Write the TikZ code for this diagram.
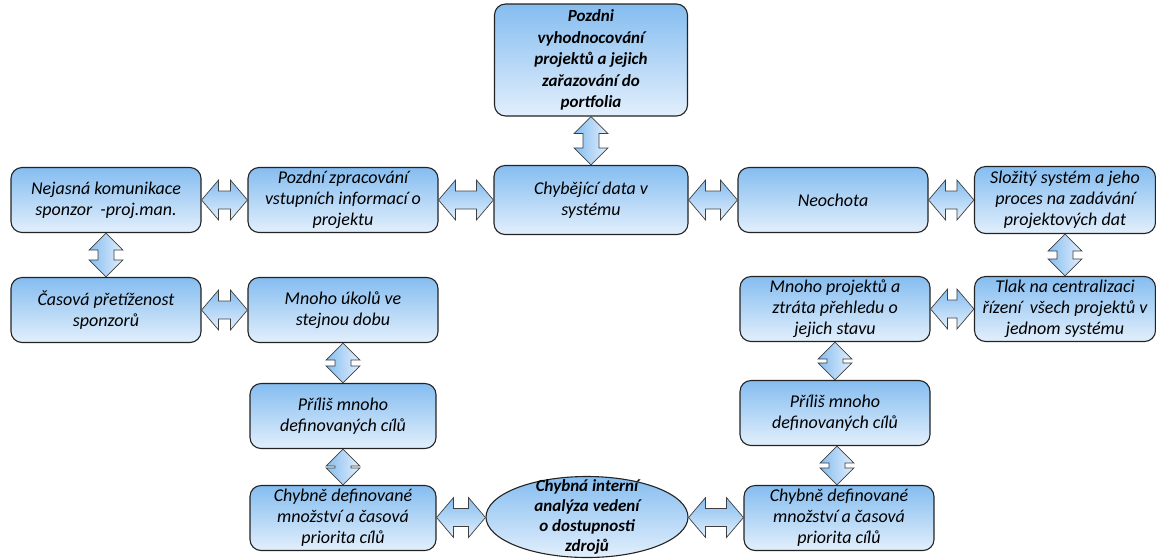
\documentclass[tikz,border=0pt]{standalone}
\usepackage{fontspec}
\setmainfont{Carlito}
\usetikzlibrary{calc,shapes,positioning}

\definecolor{boxtop}{RGB}{133,189,240}
\definecolor{boxbot}{RGB}{226,239,252}
\definecolor{boxline}{RGB}{35,35,35}

% double block arrow between two nodes, left to right
\newcommand{\hlink}[2]{%
  \path[blockarrow,top color=boxtop,bottom color=boxbot]
    let \p1=(#1.east), \p2=(#2.west), \n1={(\y1+\y2)/2} in
    (\x1,\n1) -- (\x1+17pt,\n1+20pt) -- (\x1+17pt,\n1+9pt) -- (\x2-17pt,\n1+9pt)
    -- (\x2-17pt,\n1+20pt) -- (\x2,\n1) -- (\x2-17pt,\n1-20pt) -- (\x2-17pt,\n1-9pt)
    -- (\x1+17pt,\n1-9pt) -- (\x1+17pt,\n1-20pt) -- cycle;}
% double block arrow between two nodes, top to bottom
\newcommand{\vlink}[2]{%
  \path[blockarrow,left color=boxtop,right color=boxbot]
    let \p1=(#1.south), \p2=(#2.north), \n1={(\x1+\x2)/2} in
    (\n1,\y1) -- (\n1+17pt,\y1-17pt) -- (\n1+8pt,\y1-17pt) -- (\n1+8pt,\y2+17pt)
    -- (\n1+17pt,\y2+17pt) -- (\n1,\y2) -- (\n1-17pt,\y2+17pt) -- (\n1-8pt,\y2+17pt)
    -- (\n1-8pt,\y1-17pt) -- (\n1-17pt,\y1-17pt) -- cycle;}

\begin{document}
\begin{tikzpicture}[
  x=1pt,
  y=1pt,
]

  \tikzstyle{causebox}=[draw=boxline,line width=1.1pt,rounded corners=11pt,top color=boxtop,bottom color=boxbot,minimum width=190pt,minimum height=65pt,inner sep=2pt,align=center,node distance=237pt,font=\fontsize{18}{21}\selectfont\itshape]
  \tikzstyle{rootbox}=[causebox,minimum width=193pt,minimum height=112pt,font=\fontsize{17}{21.5}\selectfont\bfseries\itshape]
  \tikzstyle{rootell}=[draw=boxline,line width=1.1pt,ellipse,top color=boxtop,bottom color=boxbot,minimum width=202pt,minimum height=81pt,inner sep=0pt]
  \tikzstyle{roottext}=[align=center,inner sep=0pt,font=\fontsize{17}{20}\selectfont\bfseries\itshape]
  \tikzstyle{blockarrow}=[draw=black!75,line width=0.7pt,line join=miter]

  \useasboundingbox (0,0) rectangle (1156,-558);

  % nodes
  \node[causebox] (nej) at (106,-200) {Nejasná komunikace\\sponzor\ \ -proj.man.};
  \node[causebox] (pozd) [right of=nej] {Pozdní zpracování\\vstupních informací o\\projektu};
  \node[causebox,minimum width=194pt,minimum height=69pt,node distance=248pt] (chyb) [right of=pozd] {Chybějící data v\\systému};
  \node[causebox,node distance=242pt] (neo) [right of=chyb] {Neochota};
  \node[causebox,minimum width=181pt,minimum height=67pt,node distance=232pt] (slo) [right of=neo] {Složitý systém a jeho\\proces na zadávání\\projektových dat};

  \node[rootbox,node distance=140pt] (late) [above of=chyb] {Pozdni\\vyhodnocování\\projektů a jejich\\zařazování do\\portfolia};

  \node[causebox,node distance=110pt] (cas) [below of=nej] {Časová přetíženost\\sponzorů};
  \node[causebox,node distance=110pt] (mnu) [below of=pozd] {Mnoho úkolů ve\\stejnou dobu};
  \node[causebox,minimum width=186pt,node distance=106pt] (pril) [below of=mnu] {Příliš mnoho\\definovaných cílů};
  \node[causebox,minimum width=186pt,node distance=102pt] (chl) [below of=pril] {Chybně definované\\množství a časová\\priorita cílů};

  \node[causebox,minimum width=181pt,node distance=109pt] (tlak) [below of=slo] {Tlak na centralizaci\\řízení\ \ všech projektů v\\jednom systému};
  \node[causebox,node distance=230pt] (mnp) [left of=tlak] {Mnoho projektů a\\ztráta přehledu o\\jejich stavu};
  \node[causebox,node distance=104pt] (prir) [below of=mnp] {Příliš mnoho\\definovaných cílů};
  \node[causebox,node distance=105pt,xshift=4pt] (chr) [below of=prir] {Chybně definované\\množství a časová\\priorita cílů};

  \node[rootell] (ell) at (587,-517) {};
  \node[roottext] (ellt) at (ell.center) {Chybná interní\\analýza vedení\\o dostupnosti\\zdrojů};

  % arrows
  \hlink{nej}{pozd}
  \hlink{pozd}{chyb}
  \hlink{chyb}{neo}
  \hlink{neo}{slo}
  \hlink{cas}{mnu}
  \hlink{mnp}{tlak}
  \hlink{chl}{ell}
  \hlink{ell}{chr}

  \vlink{late}{chyb}
  \vlink{nej}{cas}
  \vlink{slo}{tlak}
  \vlink{mnu}{pril}
  \vlink{pril}{chl}
  \vlink{mnp}{prir}
  \vlink{prir}{chr}

\end{tikzpicture}
\end{document}
